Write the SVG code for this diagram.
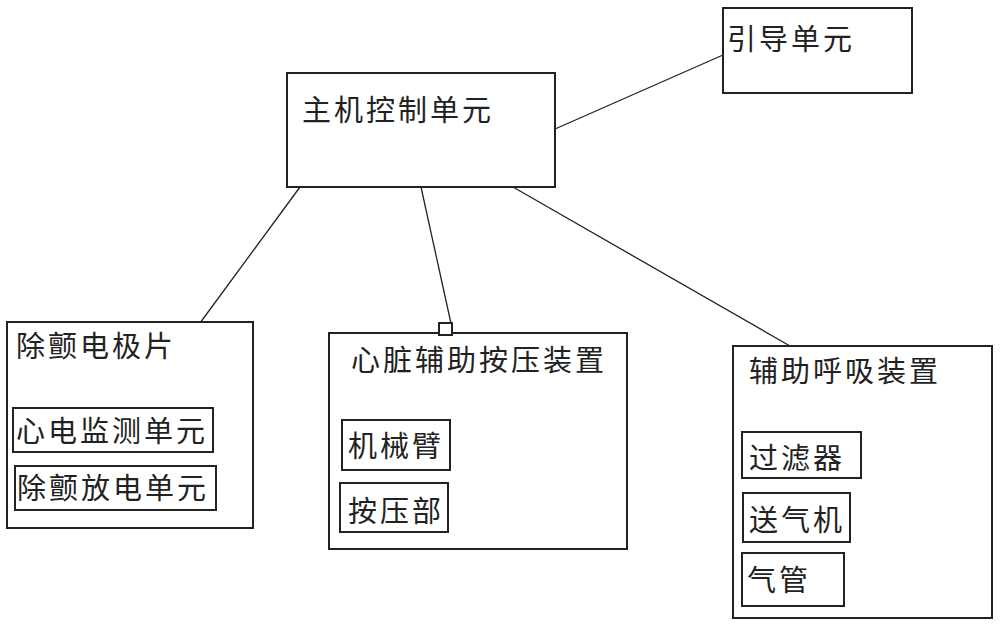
<svg xmlns="http://www.w3.org/2000/svg" width="1000" height="628" viewBox="0 0 1000 628">
<style>
.box{fill:#fff;stroke:#222;stroke-width:2}
.sub{fill:none;stroke:#222;stroke-width:2}
.t{font-family:"Noto Sans CJK SC","Liberation Sans",sans-serif;font-size:29px;letter-spacing:3px;fill:#222}
.c{stroke:#222;stroke-width:1.3;fill:none}
</style>
<rect width="1000" height="628" fill="#fff"/>
<g id="connectors">
<line class="c" x1="555" y1="129" x2="723" y2="55"/>
<line class="c" x1="300" y1="187" x2="200" y2="323"/>
<line class="c" x1="421" y1="187" x2="452" y2="328"/>
<line class="c" x1="513" y1="187" x2="790" y2="346"/>
</g>
<g id="main">
<rect class="box" x="287" y="73" width="268" height="114"/>
<text class="t" x="302" y="121">主机控制单元</text>
</g>
<g id="guide">
<rect class="box" x="723" y="8" width="189" height="85"/>
<text class="t" x="727" y="50">引导单元</text>
</g>
<g id="defib">
<rect class="box" x="7" y="322" width="246" height="206"/>
<text class="t" x="16" y="357">除颤电极片</text>
<rect class="sub" x="13" y="408" width="200" height="44"/>
<text class="t" x="16" y="442">心电监测单元</text>
<rect class="sub" x="15" y="466" width="201" height="44"/>
<text class="t" x="17" y="499">除颤放电单元</text>
</g>
<g id="heart">
<rect class="box" x="329" y="333" width="298" height="216"/>
<rect class="box" x="439" y="323" width="13" height="12"/>
<text class="t" x="351" y="371">心脏辅助按压装置</text>
<rect class="sub" x="342" y="420" width="108" height="50"/>
<text class="t" x="348" y="457">机械臂</text>
<rect class="sub" x="340" y="483" width="108" height="49"/>
<text class="t" x="348" y="522">按压部</text>
</g>
<g id="breath">
<rect class="box" x="733" y="346" width="259" height="272"/>
<text class="t" x="749" y="382">辅助呼吸装置</text>
<rect class="sub" x="742" y="432" width="119" height="46"/>
<text class="t" x="749" y="469">过滤器</text>
<rect class="sub" x="743" y="493" width="107" height="49"/>
<text class="t" x="749" y="531">送气机</text>
<rect class="sub" x="742" y="553" width="102" height="53"/>
<text class="t" x="747" y="591">气管</text>
</g>
</svg>
